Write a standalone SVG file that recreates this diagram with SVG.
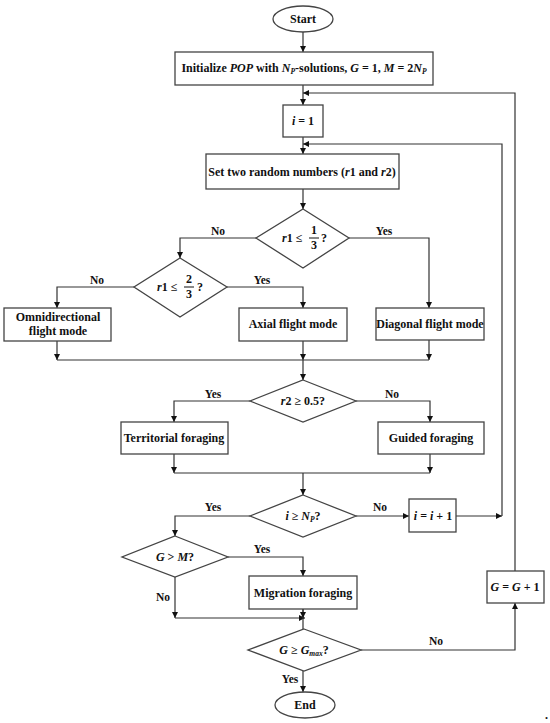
<svg xmlns="http://www.w3.org/2000/svg" width="550" height="723" viewBox="0 0 550 723">
<defs>
<marker id="ah" viewBox="0 0 10 10" refX="10" refY="5" markerWidth="6" markerHeight="6" orient="auto" markerUnits="userSpaceOnUse">
<path d="M0,0 L10,5 L0,10 z" fill="#111"/>
</marker>
</defs>
<style>
.sh{fill:#fff;stroke:#444;stroke-width:1.3}
.ln{fill:none;stroke:#333;stroke-width:1.2}
.ar{fill:none;stroke:#333;stroke-width:1.2;marker-end:url(#ah)}
text{font-family:"Liberation Serif","Times New Roman",serif;font-weight:bold;font-size:12px;fill:#111}
.c{text-anchor:middle}
.i{font-style:italic}
.lb{font-size:11.5px}
</style>
<rect width="550" height="723" fill="#fff"/>

<g id="connectors">
<path class="ar" d="M303,32 V52"/>
<path class="ar" d="M303,85 V105"/>
<path class="ar" d="M303,137 V154"/>
<path class="ar" d="M303,189 V209"/>
<path class="ar" d="M256,238 H180 V258"/>
<path class="ar" d="M349,238 H429 V308"/>
<path class="ar" d="M134,287 H57 V308"/>
<path class="ar" d="M227,287 H303 V308"/>
<path class="ar" d="M57,341 V360"/>
<path class="ar" d="M303,341 V360"/>
<path class="ar" d="M429,340 V360"/>
<path class="ln" d="M57,360 H429"/>
<path class="ar" d="M303,360 V380"/>
<path class="ar" d="M250,401 H174 V422"/>
<path class="ar" d="M356,401 H430 V422"/>
<path class="ar" d="M174,454 V473"/>
<path class="ar" d="M430,454 V473"/>
<path class="ln" d="M174,473 H430"/>
<path class="ar" d="M303,473 V495"/>
<path class="ar" d="M250,516 H175 V536"/>
<path class="ar" d="M356,516 H409"/>
<path class="ar" d="M456,516 H502"/>
<path class="ar" d="M502,516 V144 H303"/>
<path class="ar" d="M228,557 H303 V576"/>
<path class="ar" d="M175,577 V618"/>
<path class="ar" d="M175,618 H305"/>
<path class="ln" d="M303,609 V629"/>
<path class="ar" d="M303,609 V618"/>
<path class="ar" d="M303,671 V692"/>
<path class="ar" d="M361,650 H515 V603"/>
<path class="ar" d="M515,571 V93 H303"/>
</g>

<g id="start">
<ellipse class="sh" cx="303" cy="19" rx="30" ry="13"/>
<text class="c" x="303" y="23">Start</text>
</g>

<g id="init">
<rect class="sh" x="175" y="52" width="258" height="33"/>
<text class="c" x="304" y="72">Initialize <tspan class="i">POP</tspan> with <tspan class="i">N</tspan><tspan class="i" font-size="7.5" dy="2">P</tspan><tspan dy="-2">-solutions, </tspan><tspan class="i">G</tspan> = 1, <tspan class="i">M</tspan> = 2<tspan class="i">N</tspan><tspan class="i" font-size="7.5" dy="2">P</tspan></text>
</g>

<g id="i1">
<rect class="sh" x="283" y="105" width="40" height="32"/>
<text class="c" x="303" y="125"><tspan class="i">i</tspan> = 1</text>
</g>

<g id="setrand">
<rect class="sh" x="206" y="154" width="193" height="35"/>
<text class="c" x="302" y="176">Set two random numbers (<tspan class="i">r</tspan>1 and <tspan class="i">r</tspan>2)</text>
</g>

<g id="d1">
<polygon class="sh" points="303,209 349,238 303,268 256,238"/>
<text x="282" y="242"><tspan class="i">r</tspan>1 ≤</text>
<text class="c" x="314" y="234">1</text>
<line x1="309" y1="238" x2="319" y2="238" stroke="#111" stroke-width="1"/>
<text class="c" x="314" y="249">3</text>
<text x="321" y="242" font-weight="normal">?</text>
</g>

<g id="d2">
<polygon class="sh" points="180,258 227,287 180,317 134,287"/>
<text x="157" y="291"><tspan class="i">r</tspan>1 ≤</text>
<text class="c" x="189" y="283">2</text>
<line x1="184" y1="287" x2="194" y2="287" stroke="#111" stroke-width="1"/>
<text class="c" x="189" y="298">3</text>
<text x="197" y="291" font-weight="normal">?</text>
</g>

<g id="omni">
<rect class="sh" x="4" y="308" width="107" height="33"/>
<text class="c" x="58" y="321">Omnidirectional</text>
<text class="c" x="58" y="335">flight mode</text>
</g>

<g id="axial">
<rect class="sh" x="239" y="308" width="108" height="33"/>
<text class="c" x="293" y="328">Axial flight mode</text>
</g>

<g id="diagonal">
<rect class="sh" x="376" y="308" width="108" height="32"/>
<text class="c" x="430" y="328" font-size="11.8">Diagonal flight mode</text>
</g>

<g id="d3">
<polygon class="sh" points="303,380 356,401 303,422 250,401"/>
<text class="c" x="303" y="405"><tspan class="i">r</tspan>2 ≥ 0.5?</text>
</g>

<g id="territorial">
<rect class="sh" x="121" y="422" width="107" height="32"/>
<text class="c" x="174" y="442">Territorial foraging</text>
</g>

<g id="guided">
<rect class="sh" x="378" y="422" width="106" height="32"/>
<text class="c" x="431" y="442">Guided foraging</text>
</g>

<g id="d4">
<polygon class="sh" points="303,495 356,516 303,537 250,516"/>
<text class="c" x="303" y="520"><tspan class="i">i</tspan> ≥ <tspan class="i">N</tspan><tspan class="i" font-size="7.5" dy="2">P</tspan><tspan dy="-2">?</tspan></text>
</g>

<g id="inc_i">
<rect class="sh" x="409" y="499" width="47" height="33"/>
<text class="c" x="433" y="520"><tspan class="i">i</tspan> = <tspan class="i">i</tspan> + 1</text>
</g>

<g id="d5">
<polygon class="sh" points="175,536 228,557 175,577 122,557"/>
<text class="c" x="175" y="561"><tspan class="i">G</tspan> &gt; <tspan class="i">M</tspan>?</text>
</g>

<g id="migration">
<rect class="sh" x="249" y="576" width="108" height="33"/>
<text class="c" x="303" y="597">Migration foraging</text>
</g>

<g id="d6">
<polygon class="sh" points="304,629 361,650 304,671 248,650"/>
<text class="c" x="304" y="654"><tspan class="i">G</tspan> ≥ <tspan class="i">G</tspan><tspan class="i" font-size="7.5" dy="2">max</tspan><tspan dy="-2">?</tspan></text>
</g>

<g id="inc_g">
<rect class="sh" x="487" y="571" width="57" height="32"/>
<text class="c" x="515" y="591"><tspan class="i">G</tspan> = <tspan class="i">G</tspan> + 1</text>
</g>

<g id="end">
<ellipse class="sh" cx="305" cy="705" rx="30" ry="13"/>
<text class="c" x="305" y="709">End</text>
</g>

<g id="labels">
<text class="c lb" x="218" y="235">No</text>
<text class="c lb" x="384" y="235">Yes</text>
<text class="c lb" x="97" y="284">No</text>
<text class="c lb" x="262" y="284">Yes</text>
<text class="c lb" x="213" y="398">Yes</text>
<text class="c lb" x="392" y="398">No</text>
<text class="c lb" x="213" y="511">Yes</text>
<text class="c lb" x="380" y="511">No</text>
<text class="c lb" x="262" y="553">Yes</text>
<text class="c lb" x="163" y="601">No</text>
<text class="c lb" x="436" y="645">No</text>
<text class="c lb" x="290" y="683">Yes</text>
<text x="545" y="719" font-size="8">.</text>
</g>
</svg>
